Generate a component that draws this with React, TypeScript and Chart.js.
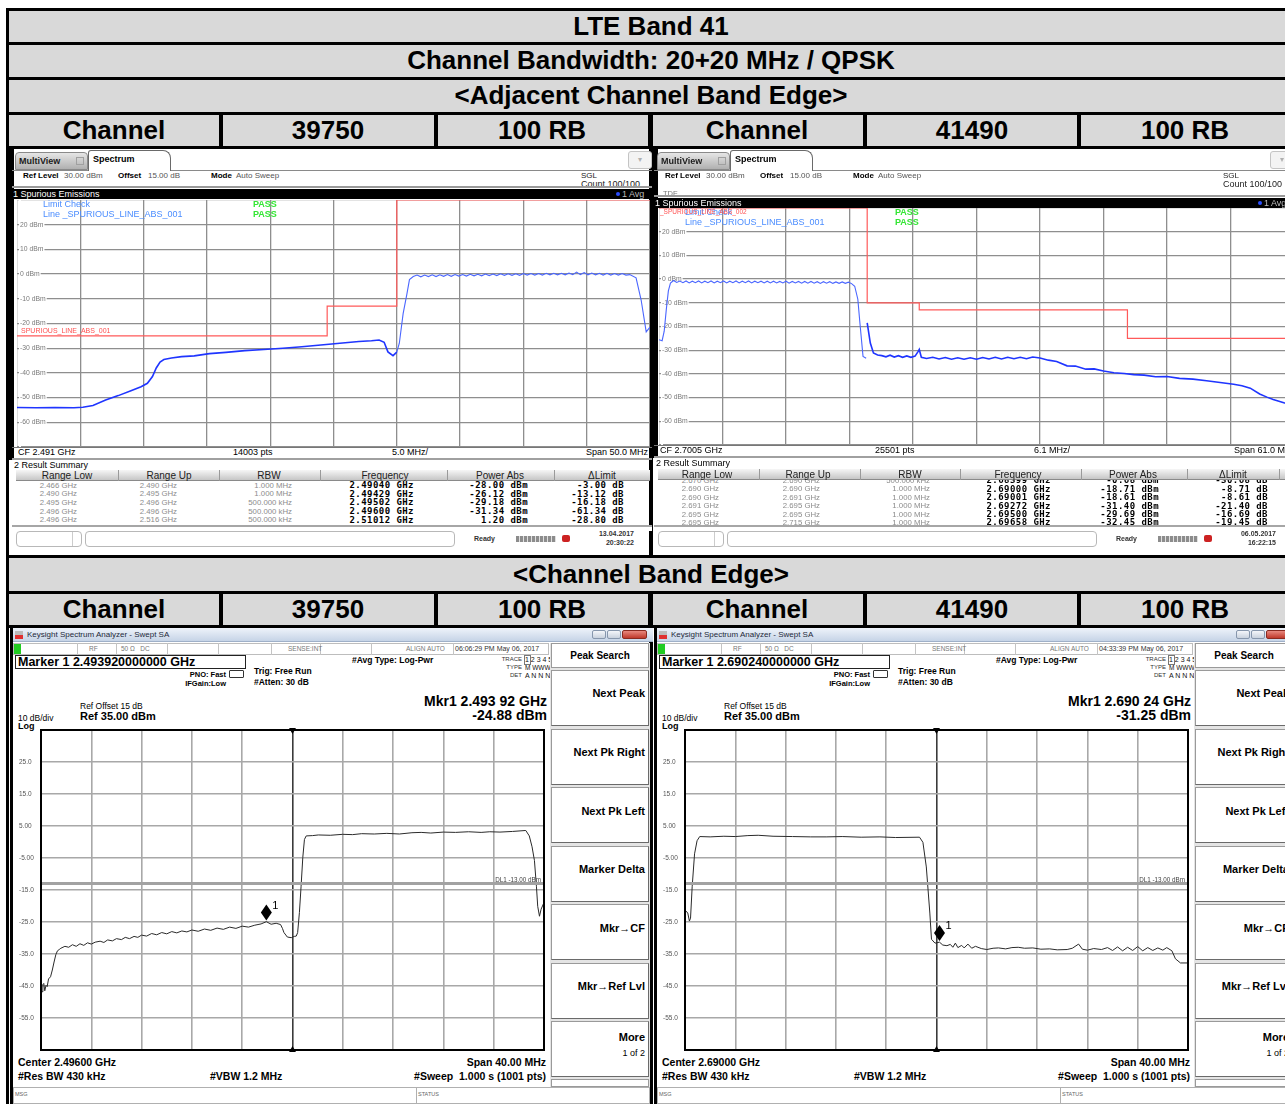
import React, { useEffect, useRef } from 'react';
import { Chart, registerables } from 'chart.js';
Chart.register(...registerables);

const SANS = '"Liberation Sans", Arial, Helvetica, sans-serif';
const MONO = '"DejaVu Sans Mono", "Liberation Mono", monospace';
const GRAY = '#d9d9d9';

// ---------------- table texts ----------------
const titleRows = ['LTE Band 41', 'Channel Bandwidth: 20+20 MHz / QPSK', '<Adjacent Channel Band Edge>'];
const sectionTitle2 = '<Channel Band Edge>';
const channelCells = ['Channel', '39750', '100 RB', 'Channel', '41490', '100 RB'];

// ---------------- axis ticks ----------------
const rsYTicks = [-70, -60, -50, -40, -30, -20, -10, 0, 10, 20, 30];
const rsYLabels = ['', '-60 dBm', '-50 dBm', '-40 dBm', '-30 dBm', '-20 dBm', '-10 dBm', '0 dBm', '10 dBm', '20 dBm', ''];
const ksYTicks = [-65, -55, -45, -35, -25, -15, -5, 5, 15, 25, 35];
const ksYLabels = ['', '-55.0', '-45.0', '-35.0', '-25.0', '-15.0', '-5.00', '5.00', '15.0', '25.0', ''];

// ---------------- top-left: R&S spurious, ch 39750 ----------------
const rs1FreqRange = [2.466, 2.516];
const rs1aFreq = [2.4660, 2.4675, 2.4690, 2.4705, 2.4712, 2.4720, 2.4730, 2.4740, 2.4750, 2.4758, 2.4763, 2.4767, 2.4770, 2.4773, 2.4776, 2.4782, 2.4790, 2.4800, 2.4812, 2.4825, 2.4840, 2.4855, 2.4870, 2.4885, 2.4900, 2.4915, 2.4930, 2.4940, 2.4946, 2.4950, 2.4953, 2.4957, 2.4960];
const rs1aLevel = [-54.0, -54.1, -54.0, -54.1, -53.9, -53.2, -51.0, -49.2, -47.2, -45.6, -44.2, -41.5, -38.0, -35.6, -34.6, -34.0, -33.4, -33.1, -32.2, -31.7, -31.0, -30.5, -30.0, -29.4, -28.7, -28.0, -27.3, -27.0, -26.7, -27.6, -31.5, -33.0, -31.6];
const rs1bFreq = [2.4960, 2.4962, 2.4965, 2.4968, 2.4970, 2.4973,
  2.4976, 2.4979, 2.4982, 2.4985, 2.4988, 2.4991, 2.4994, 2.4997, 2.5000, 2.5003,
  2.5006, 2.5009, 2.5012, 2.5015, 2.5018, 2.5021, 2.5024, 2.5027, 2.5030, 2.5033,
  2.5036, 2.5039, 2.5042, 2.5045, 2.5048, 2.5051, 2.5054, 2.5057, 2.5060, 2.5063,
  2.5066, 2.5069, 2.5072, 2.5075, 2.5078, 2.5081, 2.5084, 2.5087, 2.5090, 2.5093,
  2.5096, 2.5099, 2.5102, 2.5105, 2.5108, 2.5111, 2.5114, 2.5117, 2.5120, 2.5123,
  2.5126, 2.5129, 2.5132, 2.5135, 2.5138, 2.5141, 2.5144,
  2.5149, 2.5153, 2.5157, 2.5160];
const rs1bLevel = [-31.6, -28.0, -16.0, -8.0, -2.2, -1.0,
  -0.4, -1.1, -0.4, -1.0, -0.3, -1.0, -0.3, -0.9, -0.2, -0.9,
  -0.2, -0.8, -0.2, -0.8, -0.1, -0.7, -0.1, -0.7, 0.0, -0.6,
  0.0, -0.6, 0.1, -0.5, 0.1, -0.5, 0.1, -0.5, 0.2, -0.4,
  0.2, -0.4, 0.2, -0.4, 0.3, -0.3, 0.3, -0.3, 0.3, -0.3,
  0.4, -0.2, 0.8, -0.2, 0.6, -0.3, 0.4, -0.3, 0.3, -0.4,
  0.3, -0.4, 0.2, -0.4, 0.2, -0.4, -0.2,
  -1.5, -10.5, -23.4, -21.5];
const rs1LimitFreq = [2.466, 2.4905, 2.4905, 2.496, 2.496, 2.516];
const rs1LimitLevel = [-25, -25, -13, -13, 30, 30];
const rs1RangeLow = ['2.466 GHz', '2.490 GHz', '2.495 GHz', '2.496 GHz', '2.496 GHz'];
const rs1RangeUp = ['2.490 GHz', '2.495 GHz', '2.496 GHz', '2.496 GHz', '2.516 GHz'];
const rs1Rbw = ['1.000 MHz', '1.000 MHz', '500.000 kHz', '500.000 kHz', '500.000 kHz'];
const rs1PeakFreq = ['2.49040 GHz', '2.49429 GHz', '2.49502 GHz', '2.49600 GHz', '2.51012 GHz'];
const rs1PowerAbs = ['-28.00 dBm', '-26.12 dBm', '-29.18 dBm', '-31.34 dBm', '1.20 dBm'];
const rs1DeltaLimit = ['-3.00 dB', '-13.12 dB', '-16.18 dB', '-61.34 dB', '-28.80 dB'];

// ---------------- top-right: R&S spurious, ch 41490 ----------------
const rs2FreqRange = [2.670, 2.731];
const rs2aFreq = [2.6700, 2.6703, 2.6705, 2.6707, 2.6709, 2.6711, 2.6714,
  2.6717, 2.6720, 2.6723, 2.6726, 2.6729, 2.6732, 2.6735, 2.6738, 2.6741, 2.6744,
  2.6747, 2.6750, 2.6753, 2.6756, 2.6759, 2.6762, 2.6765, 2.6768, 2.6771, 2.6774,
  2.6777, 2.6780, 2.6783, 2.6786, 2.6789, 2.6792, 2.6795, 2.6798, 2.6801, 2.6804,
  2.6807, 2.6810, 2.6813, 2.6816, 2.6819, 2.6822, 2.6825, 2.6828, 2.6831, 2.6834,
  2.6837, 2.6840, 2.6843, 2.6846, 2.6849, 2.6852, 2.6855, 2.6858, 2.6861, 2.6864,
  2.6867, 2.6870, 2.6873, 2.6876, 2.6879, 2.6882, 2.6885,
  2.6888, 2.6891, 2.6893, 2.6896, 2.6899];
const rs2aLevel = [-25.6, -26.0, -22.0, -12.9, -5.0, -1.7, -0.6,
  -1.4, -0.8, -1.5, -0.8, -1.6, -0.9, -1.5, -0.8, -1.6, -0.9,
  -1.5, -0.8, -1.6, -0.9, -1.5, -0.8, -1.6, -0.9, -1.5, -0.8,
  -1.6, -0.9, -1.5, -0.8, -1.6, -0.9, -1.5, -0.9, -1.6, -0.9,
  -1.6, -0.9, -1.6, -1.0, -1.6, -0.9, -1.7, -1.0, -1.6, -1.0,
  -1.7, -1.0, -1.7, -1.0, -1.7, -1.1, -1.8, -1.1, -1.7, -1.1,
  -1.8, -1.2, -1.8, -1.2, -1.8, -1.3, -1.9,
  -3.0, -8.5, -18.5, -32.6, -33.4];
const rs2bFreq = [2.6900, 2.6903, 2.6906, 2.6910, 2.6914, 2.6918, 2.6922, 2.6926, 2.6930, 2.6934,
  2.6938, 2.6942, 2.6946, 2.6949, 2.6950, 2.6952, 2.6957, 2.6963, 2.6969, 2.6975,
  2.6981, 2.6987, 2.6993, 2.6999, 2.7005, 2.7011, 2.7017, 2.7023, 2.7029, 2.7035,
  2.7041, 2.7047, 2.7053, 2.7059, 2.7066, 2.7074, 2.7082, 2.7092, 2.7100, 2.7110,
  2.7118, 2.7127, 2.7137, 2.7147, 2.7156, 2.7166, 2.7177, 2.7188, 2.7200, 2.7213,
  2.7226, 2.7239, 2.7252, 2.7260, 2.7268, 2.7277, 2.7284, 2.7290, 2.7301, 2.7310];
const rs2bLevel = [-18.5, -27.0, -31.2, -32.0, -32.3, -32.8, -32.1, -32.9, -32.3, -33.0,
  -32.4, -33.0, -32.5, -30.5, -29.7, -33.0, -33.5, -33.0, -33.7, -33.1,
  -33.8, -33.2, -33.8, -33.2, -33.8, -33.1, -33.7, -33.0, -33.7, -33.0,
  -33.6, -33.0, -33.6, -32.9, -33.3, -34.2, -34.8, -36.6, -36.7, -38.0,
  -37.9, -38.8, -39.5, -39.8, -40.3, -40.5, -41.2, -41.1, -41.9, -42.2,
  -42.9, -43.6, -44.4, -45.0, -46.0, -48.5, -49.8, -50.8, -52.3, -53.0];
const rs2LimitFreq = [2.670, 2.690, 2.690, 2.695, 2.695, 2.715, 2.715, 2.731];
const rs2LimitLevel = [30, 30, -10, -10, -13, -13, -25, -25];
const rs2RangeLow = ['2.670 GHz', '2.690 GHz', '2.690 GHz', '2.691 GHz', '2.695 GHz', '2.695 GHz'];
const rs2RangeUp = ['2.690 GHz', '2.690 GHz', '2.691 GHz', '2.695 GHz', '2.695 GHz', '2.715 GHz'];
const rs2Rbw = ['500.000 kHz', '1.000 MHz', '1.000 MHz', '1.000 MHz', '1.000 MHz', '1.000 MHz'];
const rs2PeakFreq = ['2.68399 GHz', '2.69000 GHz', '2.69001 GHz', '2.69272 GHz', '2.69500 GHz', '2.69658 GHz'];
const rs2PowerAbs = ['-0.68 dBm', '-18.71 dBm', '-18.61 dBm', '-31.40 dBm', '-29.69 dBm', '-32.45 dBm'];
const rs2DeltaLimit = ['-30.68 dB', '-8.71 dB', '-8.61 dB', '-21.40 dB', '-16.69 dB', '-19.45 dB'];

// ---------------- bottom-left: Keysight, ch 39750 ----------------
const ks1FreqRange = [2.476, 2.516];
const ks1Center = 2.496;
const ks1DisplayLine = -13;
const ks1Marker = [2.49392, -24.88];
const ks1Freq = [2.47600, 2.47608, 2.47615, 2.47622, 2.47630, 2.47640, 2.47649, 2.47660, 2.47676, 2.47690,
  2.47704, 2.47718, 2.47731, 2.47745, 2.47758, 2.47790, 2.47820, 2.47850, 2.47880, 2.47910,
  2.47940, 2.47970, 2.48000, 2.48031, 2.48070, 2.48100, 2.48130, 2.48168, 2.48200, 2.48240,
  2.48270, 2.48304, 2.48340, 2.48370, 2.48400, 2.48440, 2.48480, 2.48520, 2.48560, 2.48600,
  2.48640, 2.48680, 2.48720, 2.48760, 2.48800, 2.48850, 2.48900, 2.48950, 2.49000, 2.49050,
  2.49100, 2.49150, 2.49200, 2.49250, 2.49300, 2.49350, 2.49392, 2.49430, 2.49470, 2.49505,
  2.49520, 2.49532, 2.49559, 2.49590, 2.49614, 2.49630, 2.49641, 2.49655, 2.49668, 2.49682,
  2.49695, 2.49709, 2.49760, 2.49805, 2.49900, 2.50000, 2.50078, 2.50150, 2.50250, 2.50350,
  2.50450, 2.50550, 2.50623, 2.50700, 2.50800, 2.50896, 2.51000, 2.51100, 2.51169, 2.51250,
  2.51350, 2.51455, 2.51483, 2.51505, 2.51524, 2.51540, 2.51550, 2.51564, 2.51577, 2.51600];
const ks1Level = [-46.0, -46.8, -44.5, -44.2, -46.5, -44.8, -45.2, -42.8, -42.1, -40.0,
  -37.5, -35.2, -34.0, -33.6, -33.2, -32.6, -32.9, -32.1, -32.6, -31.8,
  -32.3, -31.5, -31.9, -31.3, -31.0, -31.4, -30.6, -30.9, -30.2, -30.5,
  -29.8, -30.2, -29.5, -29.8, -29.1, -29.4, -28.6, -29.0, -28.3, -28.7,
  -28.0, -28.4, -27.8, -28.1, -27.5, -27.9, -27.2, -27.6, -26.9, -27.3,
  -26.6, -27.0, -26.3, -26.6, -26.0, -25.6, -24.9, -25.7, -25.4, -25.8,
  -27.0, -28.3, -29.7, -29.9, -29.5, -29.4, -28.3, -22.0, -14.0, -4.8,
  0.8, 1.9, 2.0, 2.2, 2.1, 2.4, 2.3, 2.6, 2.5, 2.7,
  2.5, 2.9, 3.0, 2.8, 3.1, 3.0, 3.2, 3.0, 3.2, 3.1,
  3.3, 3.6, 1.9, -1.5, -5.8, -14.0, -20.1, -23.2, -21.0, -18.9];

// ---------------- bottom-right: Keysight, ch 41490 ----------------
const ks2FreqRange = [2.670, 2.710];
const ks2Center = 2.690;
const ks2DisplayLine = -13;
const ks2Marker = [2.69024, -31.25];
const ks2Freq = [2.67000, 2.67003, 2.67022, 2.67035, 2.67044, 2.67057, 2.67076, 2.67096, 2.67117, 2.67200,
  2.67309, 2.67400, 2.67500, 2.67582, 2.67700, 2.67855, 2.68000, 2.68128, 2.68250, 2.68401,
  2.68550, 2.68674, 2.68865, 2.68892, 2.68919, 2.68947, 2.68960, 2.68988,
  2.69024, 2.69050, 2.69083, 2.69110, 2.69130, 2.69150, 2.69170, 2.69200, 2.69220, 2.69250,
  2.69280, 2.69310, 2.69356, 2.69400, 2.69450, 2.69493, 2.69550, 2.69600, 2.69650, 2.69700,
  2.69766, 2.69830, 2.69900, 2.69960, 2.70039, 2.70080, 2.70130, 2.70160, 2.70200, 2.70250,
  2.70312, 2.70360, 2.70400, 2.70440, 2.70480, 2.70520, 2.70560, 2.70600, 2.70640, 2.70680,
  2.70720, 2.70760, 2.70800, 2.70831, 2.70872, 2.70900, 2.70940, 2.71000];
const ks2Level = [-21.0, -21.4, -22.2, -24.7, -23.8, -14.0, -3.7, 0.4, 1.7, 1.6,
  1.8, 1.7, 2.0, 2.1, 1.8, 1.7, 1.6, 1.6, 1.7, 1.5,
  1.6, 1.4, 1.5, -0.1, -7.8, -22.2, -30.4, -31.6,
  -31.3, -32.2, -32.4, -32.0, -32.9, -31.6, -33.0, -32.3, -33.1, -31.9,
  -33.2, -32.6, -33.3, -33.6, -33.2, -33.1, -33.4, -33.0, -32.9, -33.2,
  -33.1, -33.5, -33.4, -33.7, -33.6, -33.2, -31.9, -33.5, -33.8, -33.3,
  -33.6, -33.0, -33.9, -32.8, -34.0, -32.9, -33.9, -32.7, -34.0, -33.0,
  -33.9, -33.1, -33.8, -33.0, -34.0, -36.5, -37.8, -37.8];

// ---------------- helpers ----------------
const T = ({ x, y, s = 8, b = false, c = '#000', f = SANS, a = 'l', w = 700, ls, children }: any) => {
  const left = a === 'l' ? x : a === 'r' ? x - w : x - w / 2;
  return (
    <div style={{ position: 'absolute', left, top: y - s * 0.6, width: w, height: s * 1.2, lineHeight: `${s * 1.2}px`, fontSize: s, fontWeight: b ? 700 : 400, color: c, fontFamily: f, letterSpacing: ls, textAlign: a === 'l' ? 'left' : a === 'r' ? 'right' : 'center', whiteSpace: 'pre' }}>{children}</div>
  );
};
const B = ({ x, y, w, h, bg = 'transparent', bd, r, st }: any) => (
  <div style={{ position: 'absolute', left: x, top: y, width: w, height: h, background: bg, border: bd, borderRadius: r, boxSizing: 'border-box', ...(st || {}) }} />
);

const pts = (f: number[], v: number[]) => f.map((x, i) => ({ x, y: v[i] }));
const tenDiv = (min: number, max: number) => (s: any) => {
  s.ticks = [0, 1, 2, 3, 4, 5, 6, 7, 8, 9, 10].map((i) => ({ value: min + ((max - min) * i) / 10 }));
};
const noPad = (s: any) => { s.paddingTop = 0; s.paddingBottom = 0; s.paddingLeft = 0; s.paddingRight = 0; };

function ChartCanvas({ x, y, w, h, config }: any) {
  const ref = useRef<HTMLCanvasElement | null>(null);
  useEffect(() => {
    if (!ref.current) return;
    const chart = new Chart(ref.current, config());
    return () => chart.destroy();
  }, []);
  return <canvas ref={ref} width={w} height={h} style={{ position: 'absolute', left: x, top: y, width: w, height: h }} />;
}

function rsConfig(traces: any[], limF: number[], limL: number[], range: number[]) {
  const [fmin, fmax] = range;
  return {
    type: 'line',
    data: {
      datasets: [
        { data: pts(limF, limL), borderColor: '#ff5a5a', borderWidth: 1.2, pointRadius: 0, clip: false },
        ...traces.map((t) => ({ data: pts(t.f, t.v), borderColor: t.c, borderWidth: t.w, pointRadius: 0 })),
      ],
    },
    options: {
      animation: false, responsive: false, events: [],
      layout: { padding: 0 },
      plugins: { legend: { display: false }, tooltip: { enabled: false } },
      scales: {
        x: {
          type: 'linear', min: fmin, max: fmax, afterBuildTicks: tenDiv(fmin, fmax),
          ticks: { display: false }, grid: { color: '#8e8e8e', lineWidth: 1.3, drawTicks: false }, border: { display: false },
          afterFit: (s: any) => { s.height = 0; noPad(s); },
        },
        y: {
          type: 'linear', min: -70, max: 30,
          afterBuildTicks: (s: any) => { s.ticks = rsYTicks.map((v) => ({ value: v })); },
          ticks: {
            mirror: true, padding: 3, crossAlign: 'near', color: '#7a7a7a', font: { family: SANS, size: 6.8 },
            callback: (v: number) => rsYLabels[rsYTicks.indexOf(v)] || '',
            showLabelBackdrop: true, backdropColor: '#ffffff', backdropPadding: { top: 0, bottom: 0, left: 1, right: 1 },
          },
          grid: { color: '#8e8e8e', lineWidth: 1.3, drawTicks: false }, border: { display: false },
          afterFit: (s: any) => { s.width = 0; noPad(s); },
        },
      },
    },
  };
}

function ksConfig(freq: number[], level: number[], range: number[], center: number, dl: number, marker: number[]) {
  const [fmin, fmax] = range;
  const plugin = {
    id: 'ksDeco',
    afterDraw(chart: any) {
      const { ctx, chartArea: a, scales } = chart;
      ctx.save();
      ctx.strokeStyle = '#000';
      ctx.lineWidth = 2;
      ctx.strokeRect(a.left, a.top, a.right - a.left, a.bottom - a.top);
      const dly = scales.y.getPixelForValue(dl);
      ctx.fillStyle = '#444';
      ctx.font = `6.3px ${SANS}`;
      ctx.textAlign = 'right';
      ctx.textBaseline = 'alphabetic';
      ctx.fillText(`DL1 ${dl.toFixed(2)} dBm`, a.right - 3, dly - 2);
      const px = scales.x.getPixelForValue(marker[0]);
      const py = scales.y.getPixelForValue(marker[1]);
      ctx.fillStyle = '#000';
      ctx.beginPath();
      ctx.moveTo(px, py - 17);
      ctx.lineTo(px + 5.5, py - 9);
      ctx.lineTo(px, py - 1);
      ctx.lineTo(px - 5.5, py - 9);
      ctx.closePath();
      ctx.fill();
      ctx.font = `11px ${SANS}`;
      ctx.textAlign = 'left';
      ctx.fillText('1', px + 6, py - 13);
      ctx.restore();
    },
  };
  return {
    type: 'line',
    data: {
      datasets: [
        { data: [{ x: fmin, y: dl }, { x: fmax, y: dl }], borderColor: '#a2a2a2', borderWidth: 3, pointRadius: 0 },
        { data: pts(freq, level), borderColor: '#2a2a2a', borderWidth: 1, pointRadius: 0 },
        {
          data: [{ x: center, y: 35 }, { x: center, y: -65 }], showLine: false, clip: false,
          pointStyle: 'triangle', pointRadius: 4, pointRotation: [180, 0], pointBackgroundColor: '#000', pointBorderColor: '#000', pointBorderWidth: 0,
        },
      ],
    },
    options: {
      animation: false, responsive: false, events: [],
      layout: { padding: { top: 1, right: 1, bottom: 1, left: 0 } },
      plugins: { legend: { display: false }, tooltip: { enabled: false } },
      scales: {
        x: {
          type: 'linear', min: fmin, max: fmax, afterBuildTicks: tenDiv(fmin, fmax),
          ticks: { display: false },
          grid: { color: (c: any) => (c.index === 5 ? '#3a3a3a' : '#a8a8a8'), lineWidth: 1.6, drawTicks: false }, border: { display: false },
          afterFit: (s: any) => { s.height = 0; noPad(s); },
        },
        y: {
          type: 'linear', min: -65, max: 35,
          afterBuildTicks: (s: any) => { s.ticks = ksYTicks.map((v) => ({ value: v })); },
          ticks: { crossAlign: 'far', padding: 0, color: '#555', font: { family: SANS, size: 6.5 }, callback: (v: number) => ksYLabels[ksYTicks.indexOf(v)] || '' },
          grid: { color: '#a8a8a8', lineWidth: 1.6, drawTicks: false }, border: { display: false },
          afterFit: (s: any) => { s.width = 22; noPad(s); },
        },
      },
    },
    plugins: [plugin],
  };
}

// ---------------- R&S panel ----------------
function RSPanel(p: any) {
  const X = (v: number) => v + p.ox;
  const rows = p.rowsLow.map((_: any, i: number) => [p.rowsLow[i], p.rowsUp[i], p.rowsRbw[i], p.rowsFreq[i], p.rowsPow[i], p.rowsDelta[i]]);
  const plot = p.plot;
  return (
    <>
      <B x={p.frameX} y={149} w={5} h={p.frameH} bg="#000" />
      <B x={X(12)} y={170} w={640} h={1} bg="#8a8a8a" />
      <B x={X(15)} y={152} w={73} h={18} bg="linear-gradient(#e6e6e6,#b0b0b0)" bd="1px solid #8a8a8a" r="4px 4px 0 0" />
      <T x={X(19)} y={161} s={9} b c="#1c1c1c">MultiView</T>
      <B x={X(76)} y={157} w={8} h={8} bd="1px solid #a0a0a0" />
      <B x={X(88)} y={150} w={83} h={21} bg="#fff" bd="1px solid #6a6a6a" r="3px 8px 0 0" st={{ borderBottom: 'none' }} />
      <T x={X(93)} y={159.5} s={9} b>Spectrum</T>
      <B x={X(628)} y={151} w={24} h={18} bg="#f3f3f3" bd="1px solid #c4c4c4" r={3} />
      <T x={X(640)} y={160} s={8} a="c" w={20} c="#b0b0b0">▾</T>

      <T x={X(23)} y={175.5} s={8} b>Ref Level</T>
      <T x={X(64)} y={175.5} s={8} c="#555">30.00 dBm</T>
      <T x={X(118)} y={175.5} s={8} b>Offset</T>
      <T x={X(148)} y={175.5} s={8} c="#555">15.00 dB</T>
      <T x={X(211)} y={175.5} s={8} b>Mode</T>
      <T x={X(236)} y={175.5} s={8} c="#555">Auto Sweep</T>
      <T x={X(581)} y={175.5} s={8} c="#222">SGL</T>
      <T x={X(581)} y={184.5} s={9} c="#222">Count 100/100</T>
      {p.tdf && <T x={X(21)} y={193} s={7.5} c="#777">TDF</T>}

      <B x={X(12)} y={p.barTop - 3} w={640} h={2} bg="#9a9a9a" />
      <B x={X(12)} y={p.barTop} w={640} h={10} bg="#000" />
      <T x={X(13)} y={p.barTop + 5} s={9} c="#fff">1 Spurious Emissions</T>
      <B x={X(616)} y={p.barTop + 3} w={4} h={4} bg="#2a4dff" r={2} />
      <T x={X(622)} y={p.barTop + 5} s={9} c="#bbb">1 Avg</T>

      <ChartCanvas x={plot.x} y={plot.y} w={plot.w} h={plot.h} config={p.config} />

      <T x={X(43)} y={plot.y + 4.6} s={9} c="#4b8dff">Limit Check</T>
      <T x={X(253)} y={plot.y + 4.6} s={9} b c="#33e633">PASS</T>
      <T x={X(43)} y={plot.y + 14.7} s={9} c="#4b8dff">Line _SPURIOUS_LINE_ABS_001</T>
      <T x={X(253)} y={plot.y + 14.7} s={9} b c="#33e633">PASS</T>
      <T x={p.red.x} y={p.red.y} s={p.red.s} c="#ff5050">{p.red.t}</T>

      <B x={X(12)} y={plot.y + plot.h} w={640} h={1} bg="#777" />
      <T x={X(18)} y={p.xRowY} s={9}>{p.xl.cf}</T>
      <T x={X(233)} y={p.xRowY} s={9}>{p.xl.pts}</T>
      <T x={p.xl.divX} y={p.xRowY} s={9}>{p.xl.div}</T>
      <T x={p.xl.spanX} y={p.xRowY} s={9} a="r" w={120}>{p.xl.span}</T>
      <B x={X(12)} y={p.xLine} w={640} h={2} bg="#a0a0a0" />

      <T x={X(14)} y={p.sumY} s={9}>2 Result Summary</T>
      {rows.map((r: string[], i: number) => {
        const yy = p.rowY0 + i * p.rowStep;
        return (
          <React.Fragment key={i}>
            {r.map((txt, j) => (
              j < 3
                ? <T key={j} x={p.colRights[j]} y={yy} s={7.8} a="r" w={90} c="#8c8c8c">{txt}</T>
                : <T key={j} x={p.colRights[j]} y={yy} s={9} b f={MONO} ls="0.45px" a="r" w={110}>{txt}</T>
            ))}
          </React.Fragment>
        );
      })}
      <B x={X(16)} y={p.headTop} w={634} h={11} bg="linear-gradient(#f6f6f6,#c6c6c6)" st={{ borderBottom: '1px solid #8a8a8a' }} />
      {p.colSeps.map((sx: number, i: number) => <B key={i} x={sx} y={p.headTop} w={1} h={11} bg="#9a9a9a" />)}
      {['Range Low', 'Range Up', 'RBW', 'Frequency', 'Power Abs', 'ΔLimit'].map((h, i) => (
        <T key={h} x={p.colCenters[i]} y={p.headTop + 5.5} s={10} a="c" w={110} c="#222">{h}</T>
      ))}
      <B x={X(12)} y={525} w={640} h={6} bg="#fff" st={{ borderTop: '2px solid #a6a6a6' }} />

      <B x={X(16)} y={531} w={66} h={16} bd="1px solid #b8b8b8" r={4} />
      <B x={X(72)} y={532} w={1} h={14} bg="#cccccc" />
      <B x={X(85)} y={531} w={370} h={16} bd="1px solid #b8b8b8" r={4} />
      <T x={X(474)} y={539} s={7} b c="#333">Ready</T>
      <B x={X(516)} y={536} w={40} h={6} bg="repeating-linear-gradient(90deg,#8c8c8c 0 3px,#e0e0e0 3px 4px)" />
      <B x={X(562)} y={535} w={8} h={7} bg="#cc2222" r={2} />
      <T x={X(634)} y={534} s={7} b a="r" w={60} c="#333">{p.date}</T>
      <T x={X(634)} y={543} s={7} b a="r" w={60} c="#333">{p.time}</T>
    </>
  );
}

// ---------------- Keysight panel ----------------
const softkeys = ['Next Peak', 'Next Pk Right', 'Next Pk Left', 'Marker Delta', 'Mkr→CF', 'Mkr→Ref Lvl'];
function KSPanel(p: any) {
  const X = (v: number) => v + p.ox;
  const seps = [77, 116, 167, 218, 271, 320, 371, 453];
  return (
    <>
      <B x={X(10)} y={628} w={3} h={476} bg="#000" />
      <B x={X(13)} y={628} w={640} h={14} bg="linear-gradient(#eef3fa,#c6d4e7)" st={{ borderBottom: '1px solid #9fb0c8' }} />
      <B x={X(15)} y={631} w={8} h={8} bg="linear-gradient(#bbbbbb 0 45%, #e03030 45% 100%)" />
      <T x={X(27)} y={635} s={8} c="#1e2a3a">Keysight Spectrum Analyzer - Swept SA</T>
      <B x={X(592)} y={630} w={14} h={9} bg="linear-gradient(#f4f6fa,#c9d2de)" bd="1px solid #8797ad" r={2} />
      <B x={X(607)} y={630} w={14} h={9} bg="linear-gradient(#f4f6fa,#c9d2de)" bd="1px solid #8797ad" r={2} />
      <B x={X(622)} y={630} w={25} h={9} bg="linear-gradient(#e8887e,#c0392b)" bd="1px solid #8a2a20" r={2} />

      <B x={X(13)} y={643} w={536} h={12} bg="#fff" bd="1px solid #bdbdbd" />
      <B x={X(14)} y={644} w={7} h={10} bg="#22cc22" />
      {seps.map((s, i) => <B key={i} x={X(s)} y={643} w={1} h={12} bg="#c4c4c4" />)}
      <T x={X(89)} y={649} s={6.5} c="#777">RF</T>
      <T x={X(121)} y={649} s={6.5} c="#777">50 Ω   DC</T>
      <T x={X(288)} y={649} s={6.5} c="#777">SENSE:INT</T>
      <T x={X(406)} y={649} s={6.5} c="#777">ALIGN AUTO</T>
      <T x={X(455)} y={649} s={7} c="#333">{p.clock}</T>

      <B x={X(15)} y={655} w={231} h={14} bg="#fff" bd="1px solid #222" />
      <T x={X(18)} y={662} s={12.5} b>{p.markerTitle}</T>
      <T x={X(226)} y={674} s={7.5} b a="r" w={80}>PNO: Fast</T>
      <B x={X(229)} y={670} w={15} h={8} bd="1px solid #333" r={1} />
      <T x={X(226)} y={683} s={7.5} b a="r" w={80}>IFGain:Low</T>
      <T x={X(254)} y={671} s={8.5} b>Trig: Free Run</T>
      <T x={X(254)} y={682} s={8.5} b>#Atten: 30 dB</T>
      <T x={X(352)} y={660} s={8.5} b>#Avg Type: Log-Pwr</T>
      <T x={X(522)} y={660} s={6} a="r" w={40} c="#333">TRACE</T>
      <T x={X(525)} y={660} s={7} c="#111">1 2 3 4 5 6</T>
      <B x={X(524)} y={655} w={7} h={10} bd="1px solid #777" />
      <T x={X(522)} y={668} s={6} a="r" w={40} c="#333">TYPE</T>
      <T x={X(525)} y={668} s={6.5} c="#111">M WWWWW</T>
      <T x={X(522)} y={676} s={6} a="r" w={40} c="#333">DET</T>
      <T x={X(525)} y={676} s={7} c="#111">A N N N N N</T>

      <T x={X(547)} y={701} s={14} b a="r" w={200}>{p.mkrFreq}</T>
      <T x={X(547)} y={715} s={14} b a="r" w={200}>{p.mkrLevel}</T>
      <T x={X(80)} y={706} s={8.5}>Ref Offset 15 dB</T>
      <T x={X(18)} y={718} s={8.5}>10 dB/div</T>
      <T x={X(80)} y={717} s={11} b>Ref 35.00 dBm</T>
      <T x={X(18)} y={726} s={9} b>Log</T>

      <ChartCanvas x={X(19)} y={726} w={529} h={328} config={p.config} />

      <T x={X(18)} y={1062} s={10.5} b>{p.center}</T>
      <T x={X(546)} y={1062} s={10.5} b a="r" w={200}>Span 40.00 MHz</T>
      <T x={X(18)} y={1076} s={10.5} b>#Res BW 430 kHz</T>
      <T x={X(210)} y={1076} s={10.5} b>#VBW 1.2 MHz</T>
      <T x={X(546)} y={1076} s={10.5} b a="r" w={250}>#Sweep  1.000 s (1001 pts)</T>

      <B x={X(13)} y={1087} w={637} h={17} bg="#fff" bd="1px solid #b0b0b0" />
      <T x={X(15)} y={1094} s={5.5} c="#666">MSG</T>
      <B x={X(416)} y={1087} w={1} h={17} bg="#b0b0b0" />
      <T x={X(418)} y={1094} s={5.5} c="#666">STATUS</T>

      <B x={X(550)} y={643} w={100} h={444} bg="#e4e4e4" />
      <B x={X(551)} y={643} w={98} h={25} bg="#fff" bd="1px solid #9a9a9a" />
      <T x={X(600)} y={656} s={10} b a="c" w={96}>Peak Search</T>
      {[0, 1, 2, 3, 4, 5, 6].map((i) => (
        <B key={i} x={X(551)} y={670 + i * 58.5} w={98} h={56} bg="#fff" bd="1px solid #9a9a9a" st={{ borderRightColor: '#6a6a6a', borderBottomColor: '#6a6a6a' }} />
      ))}
      {softkeys.map((k, i) => (
        <T key={k} x={X(645)} y={694 + i * 58.6} s={11} b a="r" w={96}>{k}</T>
      ))}
      <T x={X(645)} y={1038} s={11} b a="r" w={96}>More</T>
      <T x={X(645)} y={1053} s={9} a="r" w={96}>1 of 2</T>
      <B x={X(551)} y={1079} w={98} h={8} bg="#fff" bd="1px solid #9a9a9a" />
    </>
  );
}

// ---------------- App ----------------
export default function App() {
  const chanLefts = [9, 223, 438, 653, 867, 1081];
  const chanWidths = [210, 211, 210, 210, 210, 220];
  const chanCenters = [114, 328, 542, 757, 972, 1185];
  const titleTops = [11, 45, 80];
  const titleHs = [31, 32, 32];

  const rs1 = () => rsConfig([
    { f: rs1aFreq, v: rs1aLevel, c: '#1f35ff', w: 1.6 },
    { f: rs1bFreq, v: rs1bLevel, c: '#4a66ff', w: 1.1 },
  ], rs1LimitFreq, rs1LimitLevel, rs1FreqRange);
  const rs2 = () => rsConfig([
    { f: rs2aFreq, v: rs2aLevel, c: '#4a66ff', w: 1.1 },
    { f: rs2bFreq, v: rs2bLevel, c: '#1f35ff', w: 1.6 },
  ], rs2LimitFreq, rs2LimitLevel, rs2FreqRange);
  const ks1 = () => ksConfig(ks1Freq, ks1Level, ks1FreqRange, ks1Center, ks1DisplayLine, ks1Marker);
  const ks2 = () => ksConfig(ks2Freq, ks2Level, ks2FreqRange, ks2Center, ks2DisplayLine, ks2Marker);

  const chanRow = (top: number) => channelCells.map((c, i) => (
    <React.Fragment key={`${top}-${i}`}>
      <B x={chanLefts[i]} y={top} w={chanWidths[i]} h={31} bg={GRAY} />
      <T x={chanCenters[i]} y={top + 15.5} s={26} b a="c" w={210}>{c}</T>
    </React.Fragment>
  ));

  return (
    <div style={{ position: 'fixed', left: 0, top: 0, width: 1285, height: 1104, overflow: 'hidden', background: '#fff', fontFamily: SANS }}>
      <B x={6} y={8} w={1300} h={1100} bg="#000" />
      {titleRows.map((t, i) => (
        <React.Fragment key={t}>
          <B x={9} y={titleTops[i]} w={1290} h={titleHs[i]} bg={GRAY} />
          <T x={651} y={titleTops[i] + titleHs[i] / 2} s={26} b a="c" w={1000}>{t}</T>
        </React.Fragment>
      ))}
      {chanRow(115)}
      <B x={9} y={149} w={640} h={406} bg="#fff" />
      <B x={653} y={149} w={650} h={406} bg="#fff" />
      <B x={9} y={558} w={1290} h={33} bg={GRAY} />
      <T x={651} y={575} s={26} b a="c" w={1000}>{sectionTitle2}</T>
      {chanRow(594)}
      <B x={9} y={628} w={640} h={476} bg="#fff" />
      <B x={653} y={628} w={650} h={476} bg="#fff" />

      <RSPanel
        ox={0} frameX={9} frameH={311} tdf={false} barTop={189}
        plot={{ x: 17, y: 200, w: 633, h: 247 }} config={rs1}
        red={{ x: 21, y: 331.5, s: 7, t: 'SPURIOUS_LINE_ABS_001' }}
        xRowY={452.5} xLine={458}
        xl={{ cf: 'CF 2.491 GHz', pts: '14003 pts', div: '5.0 MHz/', divX: 392, span: 'Span 50.0 MHz', spanX: 648 }}
        sumY={465} headTop={470} rowY0={485.5} rowStep={8.6}
        colSeps={[118, 219, 320, 447, 554]} colCenters={[67, 169, 269, 385, 500, 602]} colRights={[77, 177, 292, 414, 528, 624]}
        rowsLow={rs1RangeLow} rowsUp={rs1RangeUp} rowsRbw={rs1Rbw} rowsFreq={rs1PeakFreq} rowsPow={rs1PowerAbs} rowsDelta={rs1DeltaLimit}
        date="13.04.2017" time="20:30:22"
      />
      <RSPanel
        ox={642} frameX={653} frameH={309} tdf={true} barTop={198}
        plot={{ x: 659, y: 208, w: 635, h: 237 }} config={rs2}
        red={{ x: 660, y: 212, s: 6.5, t: '_SPURIOUS_LINE_ABS_002' }}
        xRowY={450.5} xLine={456}
        xl={{ cf: 'CF 2.7005 GHz', pts: '25501 pts', div: '6.1 MHz/', divX: 1034, span: 'Span 61.0 MHz', spanX: 1296 }}
        sumY={463} headTop={469} rowY0={480.7} rowStep={8.4}
        colSeps={[759, 860, 960, 1081, 1187, 1279]} colCenters={[707, 808, 910, 1018, 1133, 1233]} colRights={[719, 820, 930, 1051, 1159, 1268]}
        rowsLow={rs2RangeLow} rowsUp={rs2RangeUp} rowsRbw={rs2Rbw} rowsFreq={rs2PeakFreq} rowsPow={rs2PowerAbs} rowsDelta={rs2DeltaLimit}
        date="06.05.2017" time="16:22:15"
      />

      <KSPanel ox={0} config={ks1} clock="06:06:29 PM May 06, 2017" markerTitle="Marker 1 2.493920000000 GHz"
        mkrFreq="Mkr1 2.493 92 GHz" mkrLevel="-24.88 dBm" center="Center 2.49600 GHz" />
      <KSPanel ox={644} config={ks2} clock="04:33:39 PM May 06, 2017" markerTitle="Marker 1 2.690240000000 GHz"
        mkrFreq="Mkr1 2.690 24 GHz" mkrLevel="-31.25 dBm" center="Center 2.69000 GHz" />
    </div>
  );
}
